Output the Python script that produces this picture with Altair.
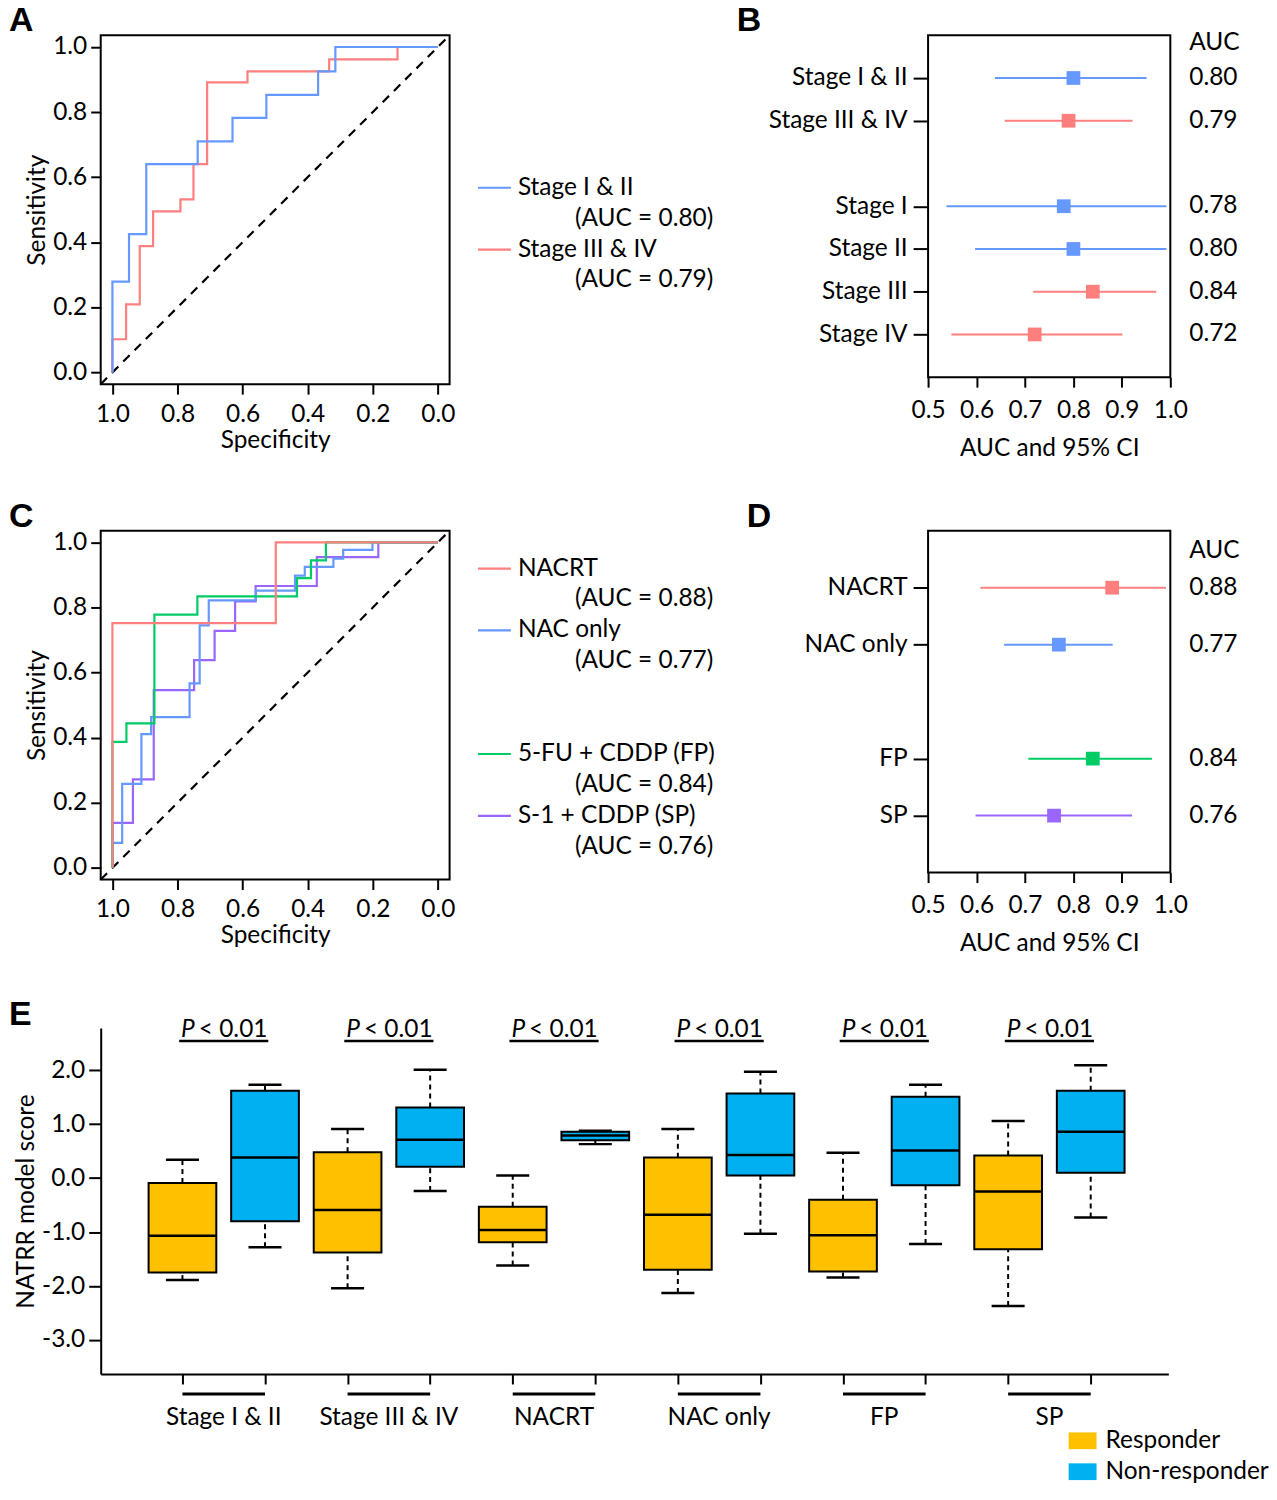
import altair as alt
import pandas as pd

FONT = "Lato"
LFONT = "Liberation Sans"
FS = 24.5
BLUE = "#6699FF"
RED = "#FF7F7F"
GREEN = "#00CC66"
PURPLE = "#9966FF"
GOLD = "#FFC000"
CYAN = "#00B0F0"

# ---------------- Panel A : ROC (specificity, sensitivity step vertices)
A_s12_spec = [1.0, 1.0, 0.949, 0.896, 0.738, 0.631, 0.527, 0.368, 0.315, 0.0]
A_s12_sens = [0.0, 0.279, 0.425, 0.640, 0.710, 0.782, 0.853, 0.925, 1.0, 1.0]
A_s34_spec = [1.0, 1.0, 0.958, 0.916, 0.875, 0.791, 0.751, 0.709, 0.585, 0.334, 0.124, 0.0]
A_s34_sens = [0.0, 0.102, 0.209, 0.388, 0.495, 0.532, 0.640, 0.891, 0.925, 0.962, 1.0, 1.0]

# ---------------- Panel C : ROC
C_nacrt_spec = [1.0, 1.0, 0.498, 0.0]
C_nacrt_sens = [0.0, 0.752, 1.0, 1.0]
C_nac_spec = [1.0, 1.0, 0.970, 0.911, 0.881, 0.763, 0.732, 0.704, 0.559, 0.439, 0.409, 0.321, 0.291, 0.201, 0.0]
C_nac_sens = [0.0, 0.077, 0.258, 0.411, 0.463, 0.567, 0.745, 0.822, 0.852, 0.898, 0.925, 0.950, 0.977, 1.0, 1.0]
C_fp_spec = [1.0, 1.0, 0.957, 0.871, 0.739, 0.433, 0.390, 0.344, 0.0]
C_fp_sens = [0.0, 0.387, 0.444, 0.778, 0.834, 0.890, 0.945, 1.0, 1.0]
C_sp_spec = [1.0, 1.0, 0.937, 0.873, 0.749, 0.686, 0.623, 0.560, 0.372, 0.183, 0.0]
C_sp_sens = [0.0, 0.138, 0.272, 0.546, 0.638, 0.728, 0.819, 0.866, 0.955, 1.0, 1.0]

# ---------------- Legends of A and C
legA_names = ["Stage I & II", "Stage III & IV"]
legA_auc = ["(AUC = 0.80)", "(AUC = 0.79)"]
legA_rows = [0, 2]
legC_names = ["NACRT", "NAC only", "5-FU + CDDP (FP)", "S-1 + CDDP (SP)"]
legC_auc = ["(AUC = 0.88)", "(AUC = 0.77)", "(AUC = 0.84)", "(AUC = 0.76)"]
legC_rows = [0, 2, 6, 8]

# ---------------- Panel B : forest
B_labels = ["Stage I & II", "Stage III & IV", "Stage I", "Stage II", "Stage III", "Stage IV"]
B_rows = [1, 2, 4, 5, 6, 7]
B_auc = [0.80, 0.79, 0.78, 0.80, 0.84, 0.72]
B_auc_txt = ["0.80", "0.79", "0.78", "0.80", "0.84", "0.72"]
B_lo = [0.638, 0.658, 0.538, 0.597, 0.717, 0.548]
B_hi = [0.951, 0.922, 0.992, 0.992, 0.971, 0.901]
B_col = [BLUE, RED, BLUE, BLUE, RED, RED]

# ---------------- Panel D : forest
D_labels = ["NACRT", "NAC only", "FP", "SP"]
D_rows = [1, 2, 4, 5]
D_auc = [0.88, 0.77, 0.84, 0.76]
D_auc_txt = ["0.88", "0.77", "0.84", "0.76"]
D_lo = [0.608, 0.657, 0.707, 0.598]
D_hi = [0.991, 0.881, 0.962, 0.921]
D_col = [RED, BLUE, GREEN, PURPLE]

# ---------------- Panel E : box plots
E_groups = ["Stage I & II", "Stage III & IV", "NACRT", "NAC only", "FP", "SP"]
E_status = ["Responder", "Non-responder"]
resp_low = [-1.89, -2.04, -1.62, -2.13, -1.84, -2.37]
resp_q1 = [-1.75, -1.38, -1.19, -1.70, -1.73, -1.32]
resp_med = [-1.07, -0.59, -0.96, -0.68, -1.06, -0.25]
resp_q3 = [-0.09, 0.48, -0.53, 0.38, -0.40, 0.42]
resp_high = [0.34, 0.91, 0.05, 0.91, 0.47, 1.06]
nonr_low = [-1.28, -0.24, 0.63, -1.03, -1.22, -0.73]
nonr_q1 = [-0.80, 0.21, 0.70, 0.05, -0.13, 0.10]
nonr_med = [0.38, 0.71, 0.79, 0.43, 0.51, 0.86]
nonr_q3 = [1.62, 1.31, 0.86, 1.57, 1.51, 1.62]
nonr_high = [1.73, 2.01, 0.88, 1.97, 1.73, 2.09]
E_ptext = ["< 0.01"] * 6
E_yticks = [-3, -2, -1, 0, 1, 2]

ROC_DOM = [-0.036, 1.036]
ROC_TICKS = [0.0, 0.2, 0.4, 0.6, 0.8, 1.0]
LET_DY = -4


def letter(t, dx, dy, opacity=1.0):
    return alt.Chart(pd.DataFrame({"t": [t]})).mark_text(
        align="left", baseline="alphabetic", font=LFONT, fontSize=34, fontWeight="bold",
        color="black", opacity=opacity).encode(x=alt.value(dx), y=alt.value(dy), text="t:N")


def roc_panel(curves, t):
    xs = alt.Scale(domain=ROC_DOM, reverse=True, nice=False, zero=False)
    ys = alt.Scale(domain=ROC_DOM, nice=False, zero=False)
    xax = alt.Axis(values=ROC_TICKS, format=".1f", title="Specificity", domain=False,
                   tickSize=10, labelPadding=8, titlePadding=3, labelFlush=False)
    yax = alt.Axis(values=ROC_TICKS, format=".1f", title="Sensitivity", domain=False,
                   tickSize=10, labelPadding=4, titlePadding=3, labelFlush=False)
    diag = alt.Chart(pd.DataFrame({"spec": [ROC_DOM[1], ROC_DOM[0]],
                                   "sens": [ROC_DOM[0], ROC_DOM[1]]})).mark_line(
        color="black", strokeWidth=2.2, strokeDash=[9, 7]).encode(
        x=alt.X("spec:Q", scale=xs, axis=xax), y=alt.Y("sens:Q", scale=ys, axis=yax))
    layers = [diag]
    for spec, sens, col in curves:
        df = pd.DataFrame({"spec": spec, "sens": sens, "o": list(range(len(spec)))})
        layers.append(alt.Chart(df).mark_line(interpolate="step-after", color=col,
                                              strokeWidth=2.2).encode(
            x=alt.X("spec:Q", scale=xs), y=alt.Y("sens:Q", scale=ys), order="o:Q"))
    layers.append(letter(t, -92, LET_DY))
    return alt.layer(*layers).properties(
        width=350, height=350,
        view=alt.ViewBackground(stroke="black", strokeWidth=2))


def legend_panel(names, aucs, rows, cols, top_px, width, x0):
    dom = [-top_px / 31.0, (350 - top_px) / 31.0]
    ys = alt.Scale(domain=dom, reverse=True, nice=False, zero=False)
    df = pd.DataFrame({"name": names, "auc": aucs, "r": rows,
                       "r2": [r + 1 for r in rows], "col": cols})
    base = alt.Chart(df)
    lines = base.mark_rule(strokeWidth=2.2).encode(
        y=alt.Y("r:Q", scale=ys, axis=None), x=alt.value(x0), x2=alt.value(x0 + 33),
        color=alt.Color("col:N", scale=None))
    t1 = base.mark_text(align="left", baseline="middle", font=FONT, fontSize=FS,
                        color="black").encode(
        y=alt.Y("r:Q", scale=ys, axis=None), x=alt.value(x0 + 40), text="name:N")
    t2 = base.mark_text(align="right", baseline="middle", font=FONT, fontSize=FS,
                        color="black").encode(
        y=alt.Y("r2:Q", scale=ys, axis=None), x=alt.value(x0 + 236), text="auc:N")
    ghost = letter("A", 0, LET_DY, opacity=0.0)
    return alt.layer(lines, t1, t2, ghost).properties(width=width, height=350)


def forest_panel(labels, rows, auc, auc_txt, lo, hi, cols, nrows, header_row, height,
                 t, dx):
    arr = [""] * (nrows + 1)
    for lab, r in zip(labels, rows):
        arr[r] = lab
    expr = "[" + ",".join("'" + a + "'" for a in arr) + "][datum.value]"
    ys = alt.Scale(domain=[0, nrows], reverse=True, nice=False, zero=False)
    xs = alt.Scale(domain=[0.5, 1.0], nice=False, zero=False)
    yax = alt.Axis(values=rows, labelExpr=expr, title=None, domain=False, tickSize=15,
                   labelPadding=6, labelLimit=400)
    xax = alt.Axis(values=[0.5, 0.6, 0.7, 0.8, 0.9, 1.0], format=".1f",
                   title="AUC and 95% CI", domain=False, tickSize=10,
                   labelPadding=11, titlePadding=15, labelOverlap=False,
                   labelFlush=False)
    df = pd.DataFrame({"r": rows, "auc": auc, "txt": auc_txt, "lo": lo, "hi": hi,
                       "col": cols})
    base = alt.Chart(df)
    rules = base.mark_rule(strokeWidth=2).encode(
        x=alt.X("lo:Q", scale=xs, axis=xax), x2="hi:Q",
        y=alt.Y("r:Q", scale=ys, axis=yax), color=alt.Color("col:N", scale=None))
    pts = base.mark_square(size=190, opacity=1).encode(
        x=alt.X("auc:Q", scale=xs), y=alt.Y("r:Q", scale=ys),
        color=alt.Color("col:N", scale=None))
    txt = base.mark_text(align="left", baseline="middle", font=FONT, fontSize=FS,
                         color="black").encode(
        x=alt.value(262), y=alt.Y("r:Q", scale=ys), text="txt:N")
    head = alt.Chart(pd.DataFrame({"r": [header_row], "t": ["AUC"]})).mark_text(
        align="left", baseline="middle", font=FONT, fontSize=FS, color="black").encode(
        x=alt.value(262), y=alt.Y("r:Q", scale=ys), text="t:N")
    return alt.layer(rules, pts, txt, head, letter(t, dx, LET_DY)).properties(
        width=243, height=height,
        view=alt.ViewBackground(stroke="black", strokeWidth=2))


A = roc_panel([(A_s34_spec, A_s34_sens, RED), (A_s12_spec, A_s12_sens, BLUE)], "A")
legA = legend_panel(legA_names, legA_auc, legA_rows, [BLUE, RED], 153, 279.5, 21.5)
B = forest_panel(B_labels, B_rows, B_auc, B_auc_txt, B_lo, B_hi, B_col, 8, 0.17, 343,
                 "B", -192)

C = roc_panel([(C_sp_spec, C_sp_sens, PURPLE), (C_nac_spec, C_nac_sens, BLUE),
               (C_fp_spec, C_fp_sens, GREEN), (C_nacrt_spec, C_nacrt_sens, RED)], "C")
legC = legend_panel(legC_names, legC_auc, legC_rows, [RED, BLUE, GREEN, PURPLE], 38,
                    289.5, 21.5)
D = forest_panel(D_labels, D_rows, D_auc, D_auc_txt, D_lo, D_hi, D_col, 6, 0.35, 343,
                 "D", -182)

# ---- Panel E
recs = []
for g, name in enumerate(E_groups):
    for k, st in enumerate(E_status):
        if k == 0:
            v = (resp_low[g], resp_q1[g], resp_med[g], resp_q3[g], resp_high[g])
        else:
            v = (nonr_low[g], nonr_q1[g], nonr_med[g], nonr_q3[g], nonr_high[g])
        pos = 2 * g + k
        recs.append({"group": name, "status": st, "pos": pos,
                     "xl": pos - 0.41, "xr": pos + 0.41, "cl": pos - 0.2, "cr": pos + 0.2,
                     "low": v[0], "q1": v[1], "med": v[2], "q3": v[3], "high": v[4]})
box_df = pd.DataFrame(recs)
grp_df = pd.DataFrame({"group": E_groups,
                       "a": [2 * g for g in range(6)],
                       "b": [2 * g + 1 for g in range(6)],
                       "mid": [2 * g + 0.5 for g in range(6)],
                       "ml": [2 * g + 0.5 - 0.54 for g in range(6)],
                       "mr": [2 * g + 0.5 + 0.54 for g in range(6)],
                       "p": ["P"] * 6, "pt": E_ptext})

exs = alt.Scale(domain=[-0.99, 11.94], nice=False, zero=False)
eys = alt.Scale(domain=[-3.63, 2.78], nice=False, zero=False)
exax = alt.Axis(values=list(range(12)), labels=False, title=None, tickSize=10,
                domainWidth=2, domainColor="black")
eyax = alt.Axis(values=E_yticks, labelExpr="replace(format(datum.value, '.1f'), '\u2212', '-')",
                title="NATRR model score", tickSize=12, labelPadding=4, titlePadding=3,
                domainWidth=2, domainColor="black", labelFlush=False)

bb = alt.Chart(box_df)
wh_hi = bb.mark_rule(strokeWidth=2, strokeDash=[5, 4], color="black").encode(
    x=alt.X("pos:Q", scale=exs, axis=exax), y=alt.Y("q3:Q", scale=eys, axis=eyax),
    y2="high:Q")
wh_lo = bb.mark_rule(strokeWidth=2, strokeDash=[5, 4], color="black").encode(
    x=alt.X("pos:Q", scale=exs), y=alt.Y("low:Q", scale=eys), y2="q1:Q")
cap_hi = bb.mark_rule(strokeWidth=2.5, color="black").encode(
    x=alt.X("cl:Q", scale=exs), x2="cr:Q", y=alt.Y("high:Q", scale=eys))
cap_lo = bb.mark_rule(strokeWidth=2.5, color="black").encode(
    x=alt.X("cl:Q", scale=exs), x2="cr:Q", y=alt.Y("low:Q", scale=eys))
boxes = bb.mark_rect(stroke="black", strokeWidth=2).encode(
    x=alt.X("xl:Q", scale=exs), x2="xr:Q", y=alt.Y("q1:Q", scale=eys), y2="q3:Q",
    color=alt.Color("status:N", scale=alt.Scale(domain=E_status, range=[GOLD, CYAN]),
                    legend=alt.Legend(orient="none", legendX=971, legendY=1396, title=None,
                                      labelFont=FONT, labelFontSize=FS, labelColor="black",
                                      symbolType="M-1,-0.6H1V0.6H-1Z", symbolSize=784,
                                      symbolStrokeWidth=0, symbolOpacity=1,
                                      rowPadding=5, labelOffset=9, padding=0,
                                      labelLimit=400)))
meds = bb.mark_rule(strokeWidth=2.5, color="black").encode(
    x=alt.X("xl:Q", scale=exs), x2="xr:Q", y=alt.Y("med:Q", scale=eys))

gb = alt.Chart(grp_df)
p_it = gb.mark_text(align="right", baseline="alphabetic", font=FONT, fontSize=FS,
                    fontStyle="italic", color="black", dx=-29).encode(
    x=alt.X("mid:Q", scale=exs), y=alt.datum(2.62), text="p:N")
p_tx = gb.mark_text(align="left", baseline="alphabetic", font=FONT, fontSize=FS,
                    color="black", dx=-25).encode(
    x=alt.X("mid:Q", scale=exs), y=alt.datum(2.62), text="pt:N")
p_ul = gb.mark_rule(strokeWidth=2.5, color="black").encode(
    x=alt.X("ml:Q", scale=exs), x2="mr:Q", y=alt.datum(2.54))
g_bar = gb.mark_rule(strokeWidth=3, color="black").encode(
    x=alt.X("a:Q", scale=exs), x2="b:Q", y=alt.datum(-4.0))
g_lab = gb.mark_text(align="center", baseline="middle", font=FONT, fontSize=FS,
                     color="black").encode(
    x=alt.X("mid:Q", scale=exs), y=alt.datum(-4.45), text="group:N")

E = alt.layer(wh_hi, wh_lo, cap_hi, cap_lo, boxes, meds, p_it, p_tx, p_ul, g_bar,
              g_lab, letter("E", -92, -3)).properties(width=1071, height=347)

row1 = alt.hconcat(A, legA, B, spacing=0)
row2 = alt.hconcat(C, legC, D, spacing=0)
upper = alt.vconcat(row1, row2, spacing=38)
chart = alt.vconcat(upper, E, spacing=42).properties(
    padding={"left": 0, "top": -7, "right": 0, "bottom": 0})

chart = chart.configure(font=FONT).configure_view(stroke=None).configure_axis(
    labelFont=FONT, titleFont=FONT, labelFontSize=FS, titleFontSize=FS,
    labelColor="black", titleColor="black", titleFontWeight="normal",
    tickColor="black", tickWidth=2, grid=False, domainColor="black")

chart.save("out.html", embed_options={"renderer": "svg", "actions": False})
